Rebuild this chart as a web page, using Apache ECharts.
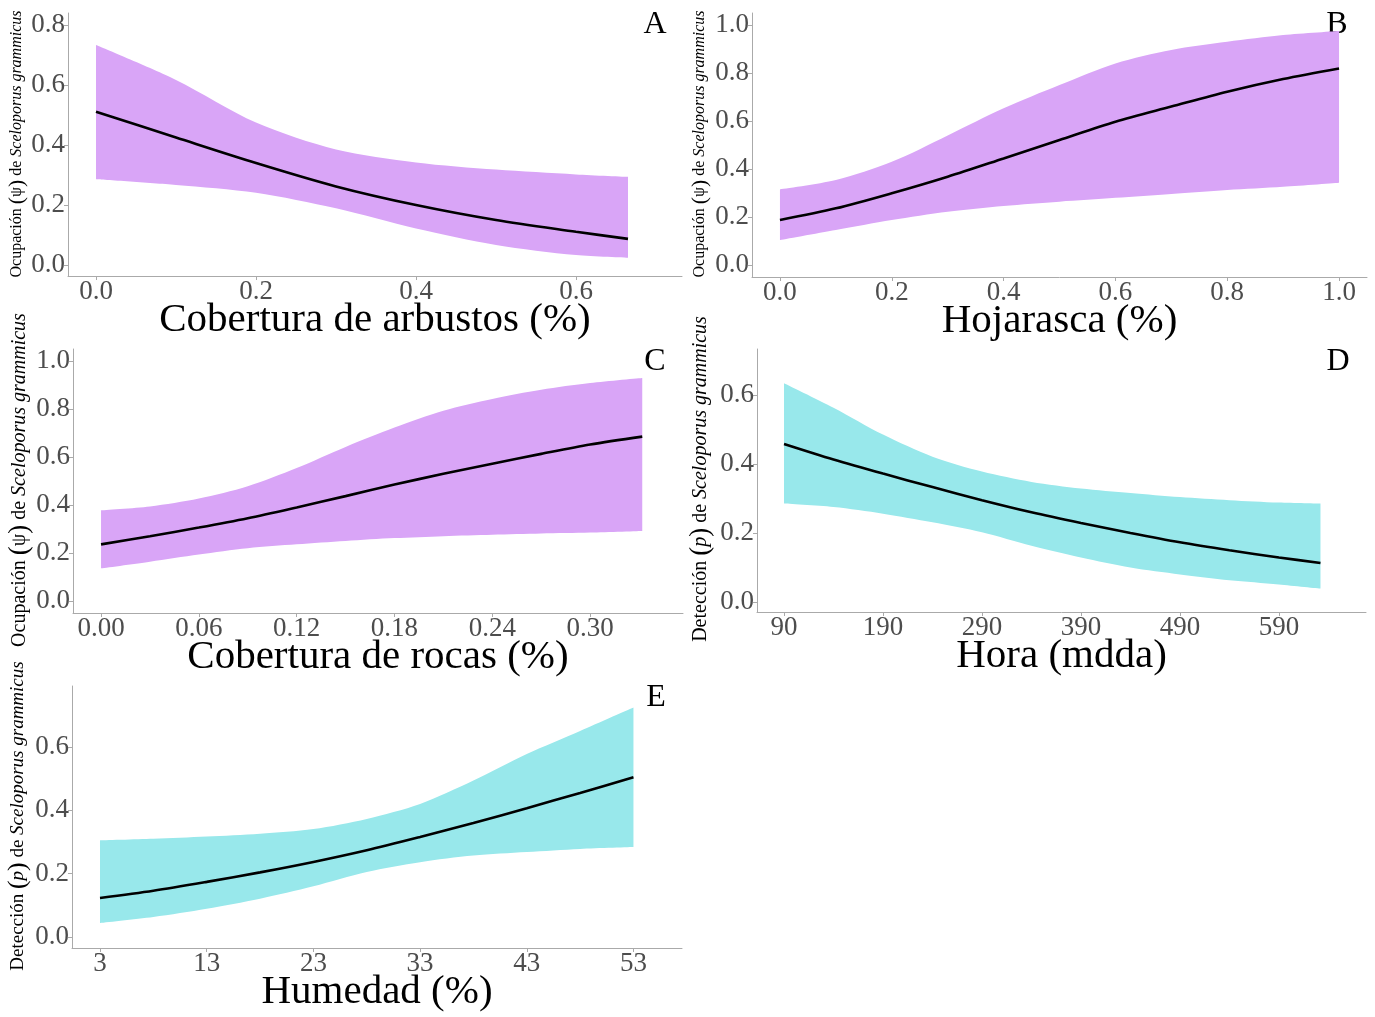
<!DOCTYPE html>
<html>
<head>
<meta charset="utf-8">
<script src="https://cdn.jsdelivr.net/npm/echarts@6/dist/echarts.min.js"></script>
<style>html,body{margin:0;padding:0;background:#fff}#c{width:1375px;height:1017px}</style>
</head>
<body>
<div id="c"></div>
<script>
// ---- Panel A: Cobertura de arbustos ----
const xA    = [0, 0.1, 0.2, 0.3, 0.4, 0.5, 0.6, 0.665];
const meanA = [0.511, 0.425, 0.34, 0.262, 0.2, 0.15, 0.111, 0.087];
const upA   = [0.733, 0.617, 0.475, 0.385, 0.342, 0.318, 0.302, 0.294];
const loA   = [0.286, 0.267, 0.241, 0.189, 0.122, 0.067, 0.033, 0.024];
const xTicksA = [0, 0.2, 0.4, 0.6];
const yTicksA = [0, 0.2, 0.4, 0.6, 0.8];

// ---- Panel B: Hojarasca ----
const xB    = [0, 0.1, 0.2, 0.3, 0.4, 0.5, 0.6, 0.7, 0.8, 0.9, 1.0];
const meanB = [0.1875, 0.236, 0.299, 0.368, 0.444, 0.521, 0.597, 0.66, 0.722, 0.775, 0.819];
const upB   = [0.315, 0.354, 0.43, 0.54, 0.653, 0.75, 0.84, 0.896, 0.93, 0.958, 0.975];
const loB   = [0.104, 0.146, 0.1875, 0.222, 0.246, 0.264, 0.28, 0.296, 0.3125, 0.326, 0.343];
const xTicksB = [0, 0.2, 0.4, 0.6, 0.8, 1.0];
const yTicksB = [0, 0.2, 0.4, 0.6, 0.8, 1.0];

// ---- Panel C: Cobertura de rocas ----
const xC    = [0, 0.03, 0.06, 0.09, 0.12, 0.15, 0.18, 0.21, 0.24, 0.27, 0.30, 0.332];
const meanC = [0.236, 0.27, 0.306, 0.345, 0.39, 0.437, 0.485, 0.53, 0.572, 0.613, 0.652, 0.685];
const upC   = [0.378, 0.394, 0.427, 0.478, 0.554, 0.642, 0.723, 0.793, 0.842, 0.88, 0.908, 0.929];
const loC   = [0.136, 0.164, 0.194, 0.22, 0.236, 0.25, 0.262, 0.27, 0.276, 0.281, 0.285, 0.292];
const xTicksC = [0, 0.06, 0.12, 0.18, 0.24, 0.30];
const yTicksC = [0, 0.2, 0.4, 0.6, 0.8, 1.0];

// ---- Panel D: Hora (mdda) ----
const xD    = [90, 140, 190, 240, 290, 340, 390, 440, 490, 540, 590, 632];
const meanD = [0.458, 0.413, 0.372, 0.333, 0.295, 0.26, 0.229, 0.2, 0.173, 0.15, 0.129, 0.113];
const upD   = [0.634, 0.563, 0.485, 0.421, 0.378, 0.348, 0.329, 0.316, 0.304, 0.295, 0.288, 0.285];
const loD   = [0.285, 0.275, 0.256, 0.231, 0.202, 0.163, 0.129, 0.1, 0.08, 0.063, 0.051, 0.039];
const xTicksD = [90, 190, 290, 390, 490, 590];
const yTicksD = [0, 0.2, 0.4, 0.6];

// ---- Panel E: Humedad ----
const xE    = [3, 8, 13, 18, 23, 28, 33, 38, 43, 48, 53];
const meanE = [0.123, 0.146, 0.174, 0.204, 0.237, 0.274, 0.316, 0.36, 0.407, 0.455, 0.505];
const upE   = [0.305, 0.31, 0.317, 0.326, 0.341, 0.373, 0.42, 0.494, 0.578, 0.651, 0.725];
const loE   = [0.044, 0.063, 0.089, 0.121, 0.16, 0.205, 0.236, 0.257, 0.268, 0.278, 0.284];
const xTicksE = [3, 13, 23, 33, 43, 53];
const yTicksE = [0, 0.2, 0.4, 0.6];

const xTitles = ['Cobertura de arbustos (%)', 'Hojarasca (%)', 'Cobertura de rocas (%)', 'Hora (mdda)', 'Humedad (%)'];
const letters = ['A', 'B', 'C', 'D', 'E'];

const PURPLE = '#D9A5F7';
const CYAN = '#98E8EB';
const FONT = '"Liberation Serif", "DejaVu Serif", serif';
const AXIS = '#aaaaaa';

const panels = [
  {x: xA, m: meanA, u: upA, l: loA, xt: xTicksA, yt: yTicksA, xd: 1, yd: 1, color: PURPLE,
   rect: {left: 68, top: 13, width: 614, height: 263}, xr: [-0.035, 0.7325], yr: [-0.0367, 0.84]},
  {x: xB, m: meanB, u: upB, l: loB, xt: xTicksB, yt: yTicksB, xd: 1, yd: 1, color: PURPLE,
   rect: {left: 752, top: 13, width: 615, height: 264}, xr: [-0.05, 1.05], yr: [-0.05, 1.05]},
  {x: xC, m: meanC, u: upC, l: loC, xt: xTicksC, yt: yTicksC, xd: 2, yd: 1, color: PURPLE,
   rect: {left: 73, top: 349, width: 610, height: 264}, xr: [-0.0172, 0.357], yr: [-0.05, 1.05]},
  {x: xD, m: meanD, u: upD, l: loD, xt: xTicksD, yt: yTicksD, xd: 0, yd: 1, color: CYAN,
   rect: {left: 757, top: 349, width: 609, height: 263}, xr: [62.7, 678], yr: [-0.029, 0.733]},
  {x: xE, m: meanE, u: upE, l: loE, xt: xTicksE, yt: yTicksE, xd: 0, yd: 1, color: CYAN,
   rect: {left: 72, top: 686, width: 610, height: 262}, xr: [0.376, 57.55], yr: [-0.035, 0.793]}
];

const grid = [], xAxis = [], yAxis = [], series = [];
panels.forEach((p, i) => {
  grid.push(Object.assign({containLabel: false}, p.rect));
  xAxis.push({
    type: 'value', gridIndex: i, min: p.xr[0], max: p.xr[1],
    axisLine: {show: true, onZero: false, lineStyle: {color: AXIS, width: 1}},
    axisTick: {show: true, customValues: p.xt, length: 4, lineStyle: {color: AXIS}},
    axisLabel: {customValues: p.xt, formatter: v => Number(v).toFixed(p.xd), color: '#4d4d4d',
      fontSize: 27, fontFamily: FONT, margin: 2},
    splitLine: {show: false},
    name: xTitles[i], nameLocation: 'middle', nameGap: 24, nameMoveOverlap: false,
    nameTextStyle: {fontSize: 41, color: '#000', fontFamily: FONT}
  });
  yAxis.push({
    type: 'value', gridIndex: i, min: p.yr[0], max: p.yr[1],
    axisLine: {show: true, onZero: false, lineStyle: {color: AXIS, width: 1}},
    axisTick: {show: true, customValues: p.yt, length: 4, lineStyle: {color: AXIS}},
    axisLabel: {customValues: p.yt, formatter: v => Number(v).toFixed(p.yd), color: '#4d4d4d',
      fontSize: 27, fontFamily: FONT, margin: 3},
    splitLine: {show: false}
  });
  const st = 'band' + i;
  // dimension 0 holds the y value so that the stack is applied to y; x is read from dimension 1
  series.push({
    type: 'line', xAxisIndex: i, yAxisIndex: i, stack: st, symbol: 'none', silent: true,
    encode: {x: 1, y: 0}, smooth: 0.3, lineStyle: {opacity: 0},
    data: p.x.map((x, k) => [p.l[k], x])
  });
  series.push({
    type: 'line', xAxisIndex: i, yAxisIndex: i, stack: st, symbol: 'none', silent: true,
    encode: {x: 1, y: 0}, smooth: 0.3, lineStyle: {opacity: 0}, areaStyle: {color: p.color, opacity: 1},
    data: p.x.map((x, k) => [p.u[k] - p.l[k], x])
  });
  series.push({
    type: 'line', xAxisIndex: i, yAxisIndex: i, symbol: 'none', silent: true,
    smooth: 0.3, lineStyle: {color: '#000', width: 2.6}, z: 5,
    data: p.x.map((x, k) => [x, p.m[k]])
  });
});

function yTitle(cx, cy, size, kind) {
  const lead = kind === 'p' ? 'Detección ' : 'Ocupación ';
  const sym = kind === 'p' ? '{s|p}' : '{n|ψ}';
  return {
    type: 'text', x: cx, y: cy, rotation: Math.PI / 2,
    style: {
      text: '{n|' + lead + '}{b|(}' + sym + '{b|)}{n| de }{i|Sceloporus grammicus}',
      align: 'center', verticalAlign: 'middle',
      rich: {
        n: {fontSize: size, fontFamily: FONT, fill: '#000'},
        b: {fontSize: size * 1.35, fontFamily: FONT, fill: '#000'},
        s: {fontSize: size, fontFamily: FONT, fontStyle: 'italic', fill: '#000'},
        i: {fontSize: size, fontFamily: FONT, fontStyle: 'italic', fill: '#000'}
      }
    }
  };
}

const letterPos = [[655, 25], [1337, 25], [655, 362], [1338, 362], [656, 698]];
const graphic = [
  yTitle(17, 144, 16, 'psi'),
  yTitle(700, 144, 16, 'psi'),
  yTitle(20, 480, 20, 'psi'),
  yTitle(701, 479, 20, 'p'),
  yTitle(18, 816, 19, 'p')
].concat(letters.map((t, i) => ({
  type: 'text', x: letterPos[i][0], y: letterPos[i][1],
  style: {text: t, fontSize: 32, fontFamily: FONT, fill: '#000', align: 'center', verticalAlign: 'middle'}
})));

const chart = echarts.init(document.getElementById('c'));
chart.setOption({animation: false, backgroundColor: '#fff', grid, xAxis, yAxis, series, graphic});
</script>
</body>
</html>
